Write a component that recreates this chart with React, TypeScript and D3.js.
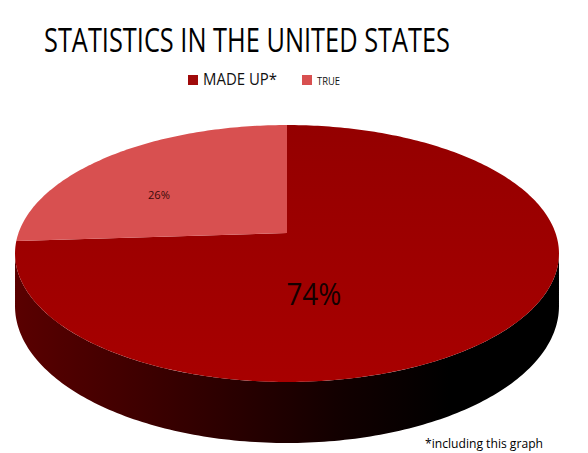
import React, { useRef, useEffect } from 'react';
import * as d3 from 'd3';

// chart data
const categories = ['MADE UP*', 'TRUE'];
const values = [74, 26];
const valueLabels = ['74%', '26%'];
const title = 'STATISTICS IN THE UNITED STATES';
const footnote = '*including this graph';

const App = () => {
  const ref = useRef<SVGSVGElement>(null);

  useEffect(() => {
    const width = 588;
    const height = 453;
    const svg = d3.select(ref.current);
    svg.selectAll('*').remove();
    svg.attr('width', width).attr('height', height);

    const colors = d3.scaleOrdinal<string, string>().domain(categories).range(['url(#madeTop)', '#d85050']);
    const legendColors = d3.scaleOrdinal<string, string>().domain(categories).range(['#a00a0a', '#d85050']);

    const defs = svg.append('defs');
    const gTop = defs.append('linearGradient').attr('id', 'madeTop')
      .attr('gradientUnits', 'userSpaceOnUse')
      .attr('x1', 0).attr('y1', 125).attr('x2', 0).attr('y2', 385);
    gTop.append('stop').attr('offset', 0).attr('stop-color', '#940000');
    gTop.append('stop').attr('offset', 1).attr('stop-color', '#a80000');

    const gSide = defs.append('linearGradient').attr('id', 'madeSide')
      .attr('gradientUnits', 'userSpaceOnUse')
      .attr('x1', 14).attr('y1', 0).attr('x2', 558).attr('y2', 0);
    gSide.append('stop').attr('offset', 0).attr('stop-color', '#5a0000');
    gSide.append('stop').attr('offset', 0.35).attr('stop-color', '#300000');
    gSide.append('stop').attr('offset', 0.6).attr('stop-color', '#120000');
    gSide.append('stop').attr('offset', 0.8).attr('stop-color', '#000000');
    gSide.append('stop').attr('offset', 1).attr('stop-color', '#000000');

    svg.append('rect').attr('width', width).attr('height', height).attr('fill', '#ffffff');

    // perspective projection of the unit disc
    const cx = 287, cy = 233, A = 268.5, B = 125.2, K = 0.1595, D = 51.3;
    const proj = (a: number, r = 1, drop = 0): [number, number] => {
      const u = r * Math.sin(a);
      const v = r * Math.cos(a);
      const w = 1 + K * v;
      return [cx + (A * u) / w, cy - (B * v) / w + (drop * D) / w];
    };
    const projUV = (u: number, v: number): [number, number] => {
      const w = 1 + K * v;
      return [cx + (A * u) / w, cy - (B * v) / w];
    };

    const pie = d3.pie<number>().sort(null).value((d) => d);
    const arcs = pie(values);
    const line = d3.line();
    const sample = (a0: number, a1: number, drop = 0) => {
      const n = Math.max(2, Math.ceil(Math.abs(a1 - a0) * 60));
      return d3.range(n + 1).map((i) => proj(a0 + ((a1 - a0) * i) / n, 1, drop));
    };

    // side wall (front visible part)
    const s0 = Math.acos(-K);
    const s1 = 2 * Math.PI - s0;
    arcs.forEach((a, i) => {
      const lo = Math.max(a.startAngle, s0);
      const hi = Math.min(a.endAngle, s1);
      if (hi <= lo) return;
      const pts = [...sample(lo, hi, 0), ...sample(hi, lo, 1)];
      svg.append('path')
        .attr('d', line(pts) + 'Z')
        .attr('fill', i === 0 ? 'url(#madeSide)' : '#6a1a1a');
    });

    // top faces
    arcs.forEach((a, i) => {
      const pts = [proj(0, 0), ...sample(a.startAngle, a.endAngle, 0)];
      svg.append('path')
        .attr('d', line(pts) + 'Z')
        .attr('fill', colors(categories[i]));
    });

    // value labels (unit-disc anchors)
    const labelAnchor: [number, number][] = [[0.093, -0.445], [-0.501, 0.319]];
    const labelSize = [31, 11];
    const labelWidth = [55, 22];
    arcs.forEach((a, i) => {
      const [x, y] = projUV(labelAnchor[i][0], labelAnchor[i][1]);
      svg.append('text')
        .attr('x', x).attr('y', y)
        .attr('text-anchor', 'middle')
        .attr('dominant-baseline', 'central')
        .attr('font-family', '"Open Sans", sans-serif')
        .attr('font-size', labelSize[i])
        .attr('textLength', labelWidth[i])
        .attr('lengthAdjust', 'spacingAndGlyphs')
        .attr('fill', i === 0 ? '#140000' : '#3a0a0a')
        .text(valueLabels[i]);
    });

    // title
    svg.append('text')
      .attr('x', 44).attr('y', 52)
      .attr('font-family', '"Open Sans", sans-serif')
      .attr('font-size', 32)
      .attr('textLength', 406)
      .attr('lengthAdjust', 'spacingAndGlyphs')
      .attr('fill', '#000')
      .text(title);

    // legend
    const legendX = [188, 302];
    const legendTextW = [74, 23];
    const legendSize = [15.5, 10];
    categories.forEach((c, i) => {
      svg.append('rect')
        .attr('x', legendX[i]).attr('y', 75)
        .attr('width', 10).attr('height', 10)
        .attr('fill', legendColors(c));
      svg.append('text')
        .attr('x', legendX[i] + 15).attr('y', 85)
        .attr('font-family', '"Open Sans", sans-serif')
        .attr('font-size', legendSize[i])
        .attr('textLength', legendTextW[i])
        .attr('lengthAdjust', 'spacingAndGlyphs')
        .attr('fill', '#111')
        .text(c);
    });

    // footnote
    svg.append('text')
      .attr('x', 425).attr('y', 448)
      .attr('font-family', '"Open Sans", sans-serif')
      .attr('font-size', 12.5)
      .attr('textLength', 118)
      .attr('lengthAdjust', 'spacingAndGlyphs')
      .attr('fill', '#000')
      .text(footnote);
  }, []);

  return (
    <svg ref={ref} style={{ position: 'absolute', left: 0, top: 0 }}></svg>
  );
};

export default App;
